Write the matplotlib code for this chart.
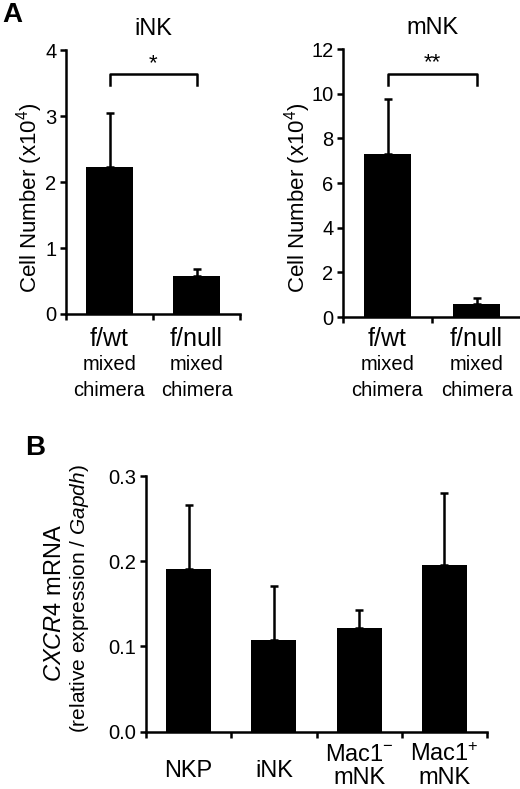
import matplotlib
matplotlib.use('Agg')
import matplotlib.pyplot as plt
import matplotlib.transforms as mtransforms
import numpy as np

plt.rcParams['font.family'] = ['Liberation Sans', 'DejaVu Sans']
plt.rcParams['mathtext.fontset'] = 'custom'
plt.rcParams['mathtext.rm'] = 'Liberation Sans'
plt.rcParams['mathtext.it'] = 'Liberation Sans:italic'
plt.rcParams['mathtext.default'] = 'regular'

# panel A data (cell number x10^4)
a_groups = ['f/wt', 'f/null']
ink_mean = [2.23, 0.58]
ink_err = [0.81, 0.10]
mnk_mean = [7.29, 0.58]
mnk_err = [2.45, 0.27]
ink_bracket = [3.47, 3.64, 3.80]   # leg bottom, bar, star
mnk_bracket = [10.4, 10.9, 11.4]

# panel B data
b_groups = ['NKP', 'iNK', 'Mac1$^{-}$\nmNK', 'Mac1$^{+}$\nmNK']
b_mean = [0.191, 0.107, 0.122, 0.196]
b_err = [0.075, 0.064, 0.021, 0.084]

W, H = 520, 789
fig = plt.figure(figsize=(W / 100, H / 100), dpi=100)


def px_axes(l, t, r, b):
    return fig.add_axes([l / W, 1 - b / H, (r - l) / W, (b - t) / H])


def style(ax, n):
    for s in ['top', 'right']:
        ax.spines[s].set_visible(False)
    for s in ['left', 'bottom']:
        ax.spines[s].set_linewidth(1.8)
    ax.set_xlim(-0.5, n - 0.5)
    ax.set_xticks(np.arange(n + 1) - 0.5)
    ax.set_xticklabels([])
    ax.tick_params(axis='x', direction='out', length=4, width=1.8)
    ax.tick_params(axis='y', direction='out', length=4, width=1.8, labelsize=14.5, pad=3)


def bars(ax, mean, err):
    x = np.arange(len(mean))
    ax.bar(x, mean, width=0.53, color='black', zorder=2)
    ax.errorbar(x, mean, yerr=[np.zeros(len(err)), err], fmt='none', ecolor='black',
                elinewidth=1.8, capsize=3, capthick=1.8, zorder=1)


def bracket(ax, hts, stars):
    lo, hi, st = hts
    ax.plot([0, 0, 1, 1], [lo, hi, hi, lo], color='black', lw=1.8, clip_on=False)
    ax.text(0.5, st, stars, ha='center', va='center', fontsize=16)


def a_labels(ax):
    tr = mtransforms.blended_transform_factory(ax.transData, fig.transFigure)
    for i, g in enumerate(a_groups):
        ax.text(i, 1 - 339 / H, g, transform=tr, ha='center', va='center', fontsize=18)
        ax.text(i, 1 - 365 / H, 'mixed', transform=tr, ha='center', va='center', fontsize=14.5)
        ax.text(i, 1 - 390 / H, 'chimera', transform=tr, ha='center', va='center', fontsize=14.5)


# A left: iNK
ax1 = px_axes(66, 50, 240, 314)
bars(ax1, ink_mean, ink_err)
style(ax1, 2)
ax1.set_ylim(0, 4)
ax1.set_yticks([0, 1, 2, 3, 4])
bracket(ax1, ink_bracket, '*')
ax1.set_title('iNK', fontsize=17, pad=11)
a_labels(ax1)
fig.text(30 / W, 1 - 198 / H, 'Cell Number (x10$^4$)', rotation=90, ha='center', va='center', fontsize=16)

# A right: mNK
ax2 = px_axes(343, 49, 521, 317)
bars(ax2, mnk_mean, mnk_err)
style(ax2, 2)
ax2.set_ylim(0, 12)
ax2.set_yticks([0, 2, 4, 6, 8, 10, 12])
bracket(ax2, mnk_bracket, '**')
ax2.set_title('mNK', fontsize=17, pad=11)
a_labels(ax2)
fig.text(298 / W, 1 - 198 / H, 'Cell Number (x10$^4$)', rotation=90, ha='center', va='center', fontsize=16)

# B
ax3 = px_axes(146, 476, 487, 731.5)
bars(ax3, b_mean, b_err)
style(ax3, 4)
ax3.set_ylim(0, 0.3)
ax3.set_yticks([0, 0.1, 0.2, 0.3])
ax3.set_yticklabels(['0.0', '0.1', '0.2', '0.3'])
tr3 = mtransforms.blended_transform_factory(ax3.transData, fig.transFigure)
for i, g in enumerate(b_groups):
    if '\n' in g:
        top, bot = g.split('\n')
        ax3.text(i, 1 - 755 / H, top, transform=tr3, ha='center', va='center', fontsize=17)
        ax3.text(i, 1 - 778 / H, bot, transform=tr3, ha='center', va='center', fontsize=17)
    else:
        ax3.text(i, 1 - 771 / H, g, transform=tr3, ha='center', va='center', fontsize=17)
fig.text(55 / W, 1 - 603 / H, '$\\mathit{CXCR4}$ mRNA', rotation=90, ha='center', va='center', fontsize=17)
fig.text(80 / W, 1 - 599 / H, '(relative expression / $\\mathit{Gapdh}$)', rotation=90,
         ha='center', va='center', fontsize=15)

# panel letters
fig.text(12 / W, 1 - 15 / H, 'A', fontsize=20, fontweight='bold', ha='center', va='center')
fig.text(35 / W, 1 - 448 / H, 'B', fontsize=20, fontweight='bold', ha='center', va='center')

fig.savefig('out.png', dpi=100)
